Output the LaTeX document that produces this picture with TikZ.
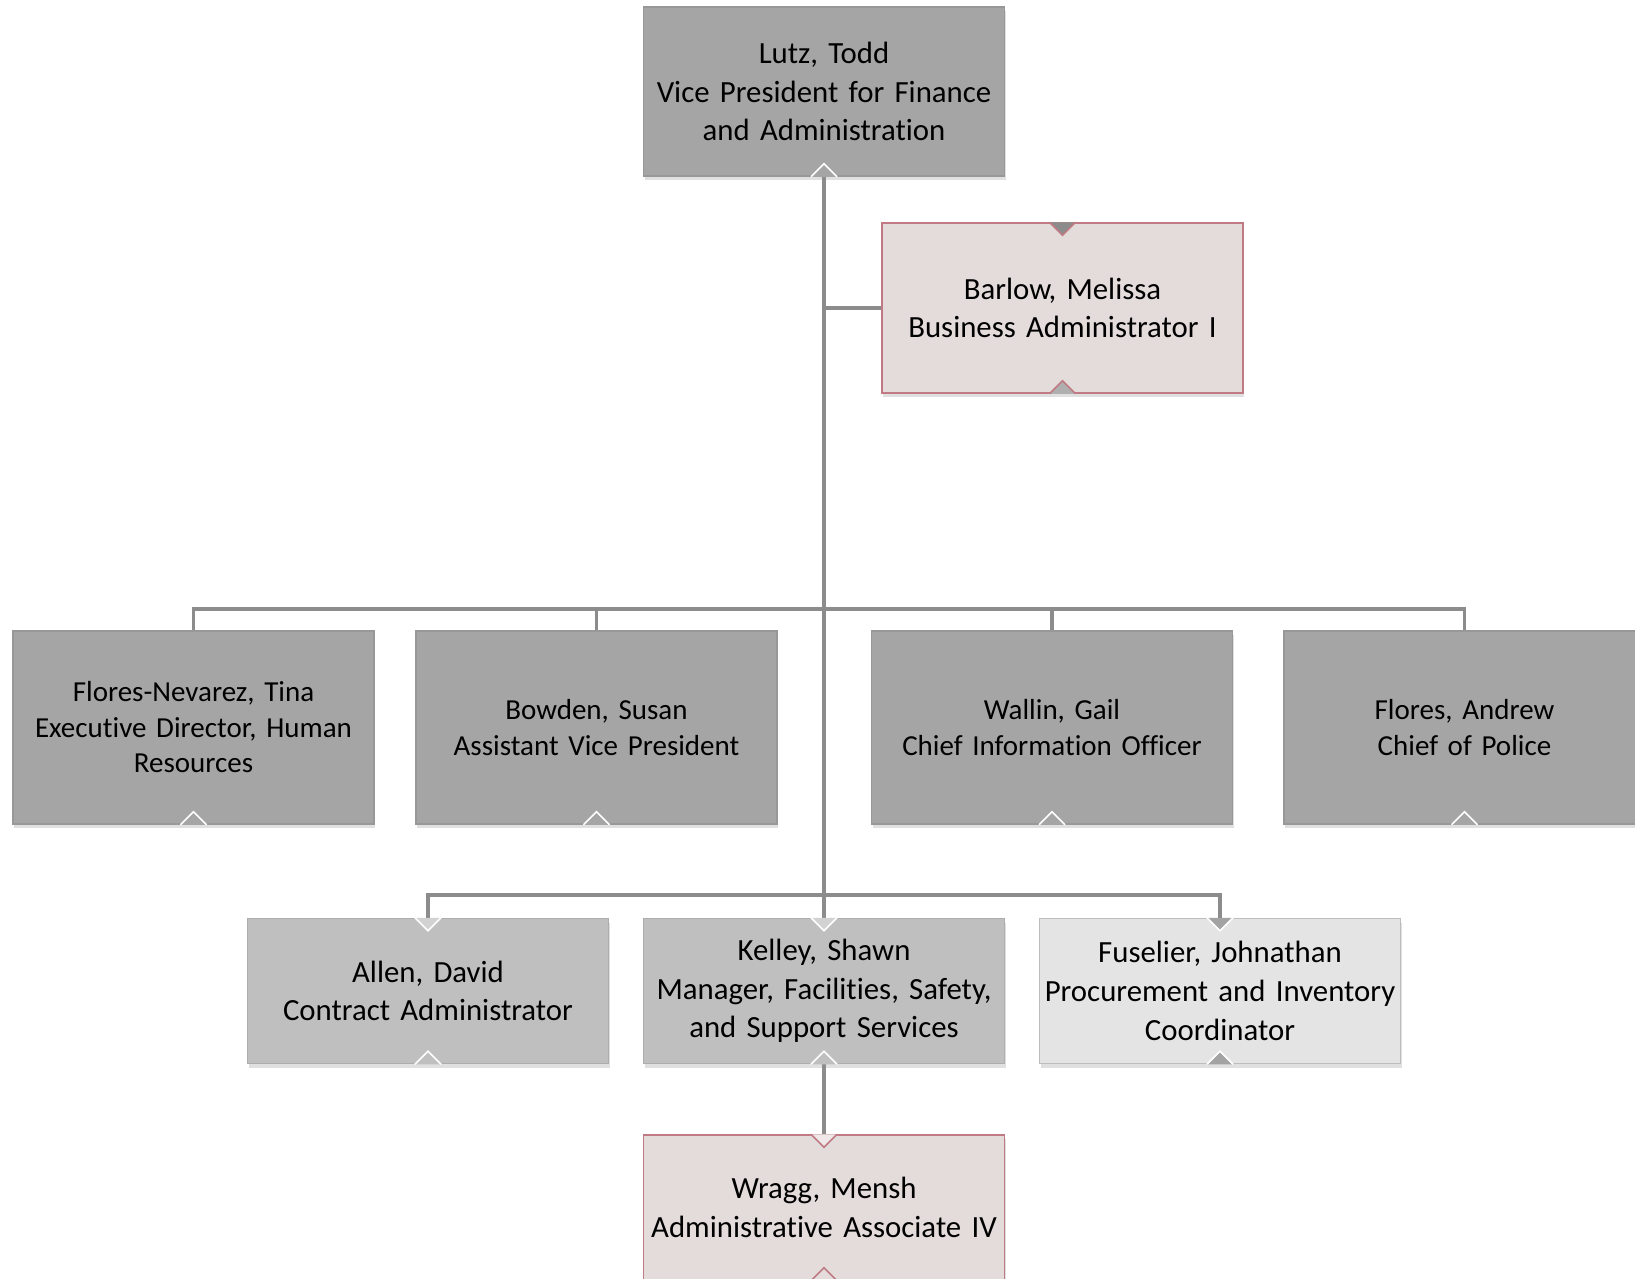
\documentclass[tikz,border=0pt]{standalone}
\usepackage{fontspec}
\setmainfont{Carlito}[Ligatures=NoCommon]
\usetikzlibrary{calc,shadows}

\definecolor{linkgray}{HTML}{8C8C8C}
\definecolor{darkfill}{HTML}{A5A5A5}
\definecolor{darkline}{HTML}{989898}
\definecolor{midfill}{HTML}{BFBFBF}
\definecolor{midline}{HTML}{ADADAD}
\definecolor{lightfill}{HTML}{E4E4E4}
\definecolor{lightline}{HTML}{BDBDBD}
\definecolor{pinkfill}{HTML}{E4DBDB}
\definecolor{pinkline}{HTML}{C07A83}

\tikzset{
  person/.style={draw, line width=1.5pt, align=center, inner sep=0pt,
    minimum width=361pt, text width=358pt,
    font=\fontsize{30.8}{38.6}\selectfont,
    drop shadow={shadow xshift=1pt, shadow yshift=-4pt, opacity=0.12, fill=black}},
  darkbox/.style={person, fill=darkfill, draw=darkline},
  midbox/.style={person, fill=midfill, draw=midline, minimum height=145pt},
  lightbox/.style={person, fill=lightfill, draw=lightline, minimum height=145pt},
  pinkbox/.style={person, fill=pinkfill, draw=pinkline},
  rowtwo/.style={darkbox, minimum height=193pt, font=\fontsize{29}{35.5}\selectfont},
  link/.style={draw=linkgray, line width=3.5pt}
}

\newcommand\upnotch[3]{\filldraw[fill=#2, draw=#3, line width=1.5pt]
  ($(#1)+(-13,0)$) -- ($(#1)+(0,-13)$) -- ($(#1)+(13,0)$);}
\newcommand\downnotch[3]{\filldraw[fill=#2, draw=#3, line width=1.5pt]
  ($(#1)+(-13,0)$) -- ($(#1)+(0,13)$) -- ($(#1)+(13,0)$);}

\begin{document}
\begin{tikzpicture}[x=1pt,y=-1pt]
  \useasboundingbox[fill=white] (0,0) rectangle (1635,1279);

  \node[darkbox, minimum height=169pt] (vp) at (824,91.5)
    {Lutz, Todd\\Vice President for Finance\\and Administration};
  \node[pinkbox, minimum height=170pt] (barlow) at (1062.5,308)
    {Barlow, Melissa\\Business Administrator I};

  \node[rowtwo] (hr) at (193.5,727.5)
    {Flores-Nevarez, Tina\\Executive Director, Human\\Resources};
  \node[rowtwo] (avp) at (596.5,727.5) {Bowden, Susan\\Assistant Vice President};
  \node[rowtwo] (cio) at (1052,727.5) {Wallin, Gail\\Chief Information Officer};
  \node[rowtwo] (police) at (1464.5,727.5) {Flores, Andrew\\Chief of Police};

  \node[midbox] (allen) at (428,991) {Allen, David\\Contract Administrator};
  \node[midbox] (kelley) at (824,991)
    {Kelley, Shawn\\Manager, Facilities, Safety,\\and Support Services};
  \node[lightbox] (fuselier) at (1220,991)
    {Fuselier, Johnathan\\Procurement and Inventory\\Coordinator};

  \node[pinkbox, minimum height=145pt] (wragg) at (824,1207.5)
    {Wragg, Mensh\\Administrative Associate IV};

  \coordinate (bar2) at (824,609);
  \coordinate (bar3) at (824,895);

  \draw[link] (vp.south) -- (kelley.north);
  \draw[link] (vp.south |- barlow.west) -- (barlow.west);
  \draw[link] (hr.north) |- (bar2) -| (police.north);
  \draw[link] (avp.north) -- (avp.north |- bar2);
  \draw[link] (cio.north) -- (cio.north |- bar2);
  \draw[link] (allen.north) |- (bar3) -| (fuselier.north);
  \draw[link] (kelley.south) -- (wragg.north);

  \upnotch{vp.south}{darkfill}{white}
  \downnotch{barlow.north}{linkgray}{pinkline}
  \upnotch{barlow.south}{linkgray!70}{pinkline}
  \upnotch{hr.south}{darkfill}{white}
  \upnotch{avp.south}{darkfill}{white}
  \upnotch{cio.south}{darkfill}{white}
  \upnotch{police.south}{darkfill}{white}
  \downnotch{allen.north}{midfill!70!white}{white}
  \downnotch{kelley.north}{midfill!70!white}{white}
  \downnotch{fuselier.north}{linkgray!80}{white}
  \upnotch{allen.south}{midfill}{white}
  \upnotch{kelley.south}{midfill}{white}
  \upnotch{fuselier.south}{linkgray!80}{white}
  \downnotch{wragg.north}{pinkfill!60!white}{pinkline}
  \upnotch{wragg.south}{pinkfill}{pinkline}
\end{tikzpicture}
\end{document}
